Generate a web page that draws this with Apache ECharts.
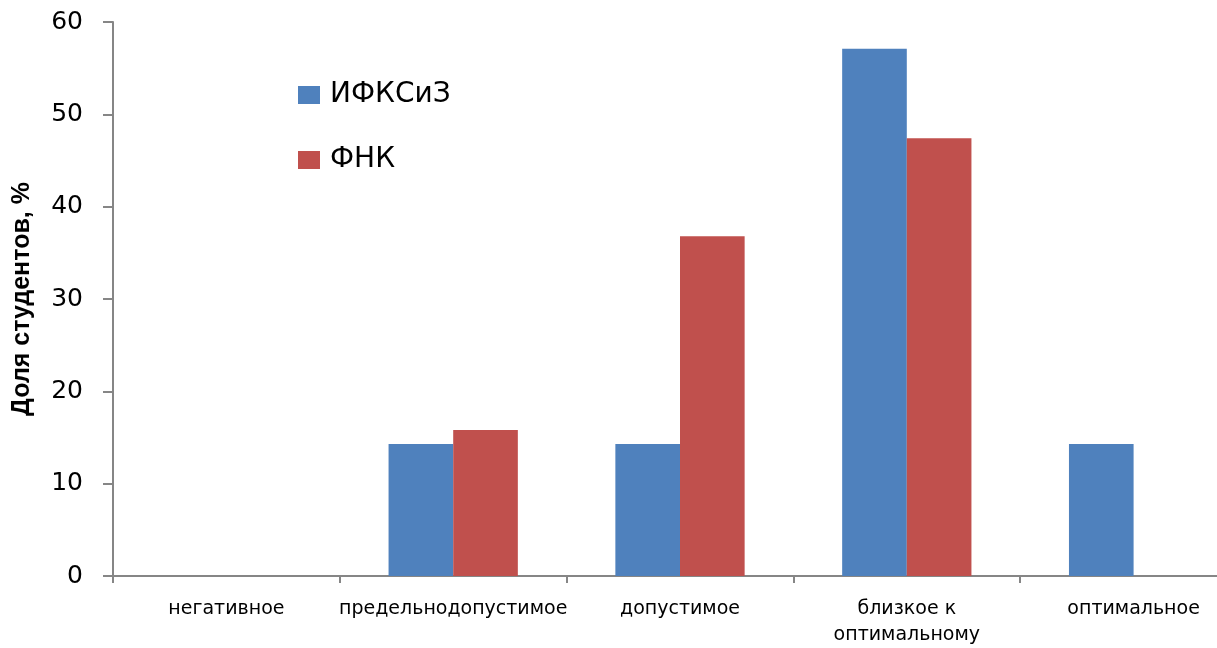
<!DOCTYPE html>
<html>
<head>
<meta charset="utf-8">
<script src="https://cdn.jsdelivr.net/npm/echarts@6/dist/echarts.min.js"></script>
<style>
  html, body { margin: 0; padding: 0; background: #fff; overflow: hidden; }
  #chart { width: 1250px; height: 648px; }
</style>
</head>
<body>
<div id="chart"></div>
<script>
// Оценка состояния здоровья студентов, доля по группам (%)
const categories = ['негативное', 'предельнодопустимое', 'допустимое', 'близкое к\nоптимальному', 'оптимальное'];
const seriesNames = ['ИФКСиЗ', 'ФНК'];
const ifksizValues = [0, 14.3, 14.3, 57.1, 14.3];
const fnkValues = [0, 15.8, 36.8, 47.4, 0];
const yTicks = { min: 0, max: 60, interval: 10 };

const axisGrey = '#868686';

const chart = echarts.init(document.getElementById('chart'), null, { renderer: 'canvas' });
chart.setOption({
  animation: false,
  backgroundColor: '#ffffff',
  grid: { left: 113, top: 22, bottom: 69, right: 3, containLabel: false },
  legend: {
    orient: 'vertical',
    left: 298,
    top: 81,
    padding: 0,
    itemWidth: 22,
    itemHeight: 18,
    itemGap: 37,
    icon: 'rect',
    textStyle: { fontFamily: 'DejaVu Sans', fontSize: 28, color: '#000', padding: [0, 0, 0, 5] },
    data: seriesNames
  },
  xAxis: {
    type: 'category',
    data: categories,
    axisLine: { lineStyle: { color: axisGrey, width: 2 } },
    axisTick: { show: true, length: 7, lineStyle: { color: axisGrey, width: 2 } },
    axisLabel: {
      interval: 0,
      margin: 20,
      fontFamily: 'DejaVu Sans',
      fontSize: 19,
      color: '#000',
      lineHeight: 26
    }
  },
  yAxis: {
    type: 'value',
    min: yTicks.min,
    max: yTicks.max,
    interval: yTicks.interval,
    name: 'Доля студентов, %',
    nameLocation: 'middle',
    nameGap: 78,
    nameTextStyle: { fontFamily: 'Liberation Sans', fontWeight: 'bold', fontSize: 25, color: '#000' },
    axisLine: { show: true, lineStyle: { color: axisGrey, width: 2 } },
    axisTick: { show: true, length: 10, lineStyle: { color: axisGrey, width: 2 } },
    splitLine: { show: false },
    axisLabel: { margin: 30, fontFamily: 'DejaVu Sans', fontSize: 25, color: '#000' }
  },
  series: [
    {
      name: seriesNames[0],
      type: 'bar',
      data: ifksizValues,
      barGap: '0%',
      barCategoryGap: '43%',
      itemStyle: { color: '#4F81BD' }
    },
    {
      name: seriesNames[1],
      type: 'bar',
      data: fnkValues,
      barGap: '0%',
      barCategoryGap: '43%',
      itemStyle: { color: '#C0504D' }
    }
  ]
});
</script>
</body>
</html>
